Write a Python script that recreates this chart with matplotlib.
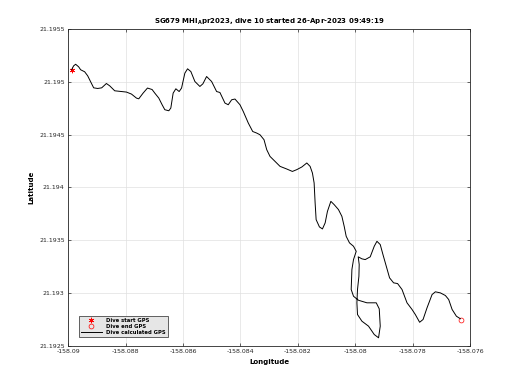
import matplotlib
matplotlib.use("Agg")
import matplotlib.pyplot as plt
from matplotlib.ticker import FuncFormatter

# dive track
lon = [-158.089878, -158.089808, -158.089738, -158.089634, -158.089564, -158.089424,
       -158.089319, -158.089215, -158.089110, -158.088970, -158.088831, -158.088667,
       -158.088552, -158.088377, -158.088143, -158.087969, -158.087794, -158.087620,
       -158.087540, -158.087389, -158.087236, -158.087075, -158.086981, -158.086842,
       -158.086726, -158.086632, -158.086493, -158.086423, -158.086342, -158.086248,
       -158.086133, -158.086049, -158.085934, -158.085840, -158.085725, -158.085585,
       -158.085411, -158.085306, -158.085177, -158.085002, -158.084828, -158.084713,
       -158.084538, -158.084423, -158.084304, -158.084189, -158.084015, -158.083899,
       -158.083725, -158.083571, -158.083432, -158.083317, -158.083177, -158.083083,
       -158.082968, -158.082793, -158.082619, -158.082385, -158.082189, -158.082036,
       -158.081861, -158.081687, -158.081572, -158.081491, -158.081432, -158.081397,
       -158.081362, -158.081247, -158.081142, -158.081048, -158.080968, -158.080849,
       -158.080734, -158.080584, -158.080465, -158.080385, -158.080315, -158.080200,
       -158.080060, -158.079966, -158.080060, -158.080116, -158.080141, -158.080060,
       -158.079886, -158.079593, -158.079268, -158.079164, -158.079129, -158.079188,
       -158.079338, -158.079537, -158.079767, -158.079921, -158.079942, -158.079921,
       -158.079872, -158.079862, -158.079896, -158.079767, -158.079652, -158.079478,
       -158.079338, -158.079244, -158.079129, -158.079034, -158.078919, -158.078804,
       -158.078664, -158.078525, -158.078371, -158.078197, -158.078022, -158.077907,
       -158.077757, -158.077638, -158.077499, -158.077324, -158.077209, -158.077035,
       -158.076860, -158.076745, -158.076626, -158.076476, -158.076337]
lat = [21.195113, 21.195150, 21.195165, 21.195141, 21.195113, 21.195094,
       21.195056, 21.194999, 21.194942, 21.194936, 21.194942, 21.194983,
       21.194961, 21.194914, 21.194907, 21.194902, 21.194883, 21.194845,
       21.194838, 21.194892, 21.194940, 21.194926, 21.194892, 21.194845,
       21.194782, 21.194735, 21.194725, 21.194751, 21.194892, 21.194933,
       21.194907, 21.194940, 21.195081, 21.195122, 21.195096, 21.195002,
       21.194955, 21.194980, 21.195049, 21.195002, 21.194907, 21.194898,
       21.194798, 21.194782, 21.194829, 21.194836, 21.194782, 21.194718,
       21.194609, 21.194529, 21.194514, 21.194498, 21.194451, 21.194357,
       21.194293, 21.194246, 21.194199, 21.194174, 21.194151, 21.194168,
       21.194193, 21.194231, 21.194199, 21.194136, 21.194042, 21.193853,
       21.193695, 21.193626, 21.193607, 21.193664, 21.193773, 21.193868,
       21.193837, 21.193790, 21.193726, 21.193632, 21.193537, 21.193475,
       21.193443, 21.193395, 21.193317, 21.193223, 21.193034, 21.192970,
       21.192932, 21.192908, 21.192908, 21.192851, 21.192687, 21.192577,
       21.192608, 21.192687, 21.192734, 21.192797, 21.192908, 21.193034,
       21.193159, 21.193270, 21.193343, 21.193324, 21.193317, 21.193343,
       21.193443, 21.193490, 21.193459, 21.193364, 21.193254, 21.193144,
       21.193097, 21.193090, 21.193034, 21.192908, 21.192845, 21.192797,
       21.192724, 21.192750, 21.192861, 21.192986, 21.193012, 21.193002,
       21.192977, 21.192939, 21.192845, 21.192781, 21.192757]

start_gps = (-158.089878, 21.195108)
end_gps = (-158.076313, 21.192750)

x_ticks = [-158.09, -158.088, -158.086, -158.084, -158.082, -158.08, -158.078, -158.076]
y_ticks = [21.1925, 21.193, 21.1935, 21.194, 21.1945, 21.195, 21.1955]

fig = plt.figure(figsize=(5.2, 3.9), dpi=100)
ax = fig.add_axes([0.131, 0.113, 0.773, 0.813])

# matlab style asterisk marker
ax.plot(start_gps[0], start_gps[1], linestyle="none", marker=(6, 2, 0), color="r",
        ms=4, mew=0.5, label="Dive start GPS")
ax.plot(end_gps[0], end_gps[1], "o", mfc="none", mec="r", ms=3.5, mew=0.5, label="Dive end GPS")
ax.plot(lon, lat, "k-", lw=0.7, label="Dive calculated GPS")

ax.set_xlim(x_ticks[0], x_ticks[-1])
ax.set_ylim(y_ticks[0], y_ticks[-1])
ax.set_xticks(x_ticks)
ax.set_yticks(y_ticks)
fmt = FuncFormatter(lambda v, p: "%g" % round(v, 6))
ax.xaxis.set_major_formatter(fmt)
ax.yaxis.set_major_formatter(fmt)
ax.tick_params(direction="in", length=2.5, width=0.5, labelsize=4.5, top=True, right=True,
               colors="#262626", labelcolor="#262626", pad=2.5)
ax.grid(True, color="#e0e0e0", lw=0.5)
ax.set_axisbelow(True)
for s in ax.spines.values():
    s.set_linewidth(0.6)
    s.set_color("#262626")

ax.set_xlabel("Longitude", fontsize=5, fontweight="bold", labelpad=3.5)
ax.set_ylabel("Latitude", fontsize=5, fontweight="bold", labelpad=3)
ax.set_title(r"SG679 MHI$_{\mathbf{A}}$pr2023, dive 10 started 26-Apr-2023 09:49:19",
             fontsize=5, fontweight="bold", pad=4)

leg = ax.legend(loc="lower left", bbox_to_anchor=(0.02, 0.02),
                prop={"weight": "bold", "size": 3.8}, fancybox=False,
                framealpha=1, borderpad=0.4, handlelength=4, labelspacing=0.2)
leg.get_frame().set_facecolor("#e6e6e6")
leg.get_frame().set_edgecolor("#262626")
leg.get_frame().set_linewidth(0.5)

fig.savefig("out.png", dpi=100)
